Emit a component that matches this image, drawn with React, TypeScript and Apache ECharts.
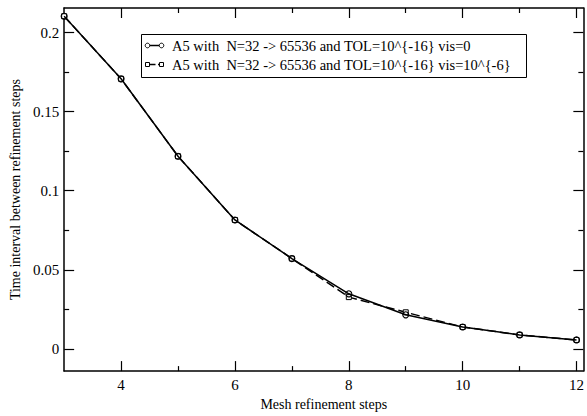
import React, { useEffect, useRef } from "react";
import * as echarts from "echarts";

const xSteps = [3, 4, 5, 6, 7, 8, 9, 10, 11, 12];
const visZero = [0.2104, 0.1708, 0.1218, 0.0815, 0.0571, 0.0348, 0.0215, 0.0138, 0.0088, 0.0056];
const visSmall = [0.2104, 0.1708, 0.1218, 0.0815, 0.0571, 0.0327, 0.0231, 0.0138, 0.0088, 0.0056];
const seriesNames = [
  "A5 with  N=32 -> 65536 and TOL=10^{-16} vis=0",
  "A5 with  N=32 -> 65536 and TOL=10^{-16} vis=10^{-6}",
];
const xMajorTicks = [4, 6, 8, 10, 12];
const xMinorTicks = [5, 7, 9, 11];
const yMajorTicks = [0, 0.05, 0.1, 0.15, 0.2];
const yMinorTicks = [0.025, 0.075, 0.125, 0.175];

const FONT = "Liberation Serif";
const X_MIN = 3;
const X_MAX = 12.12;
const Y_MIN = -0.0141;
const Y_MAX = 0.2156;

function legendGraphic() {
  const bx = 141;
  const by = 34;
  const row1 = 45.5;
  const row2 = 64.5;
  const stroke = { stroke: "#000", lineWidth: 1 };
  const textStyle = (y: number, t: string) => ({
    type: "text",
    x: 172,
    y,
    style: {
      text: t,
      fill: "#000",
      font: `14.5px ${FONT}`,
      verticalAlign: "middle",
      align: "left",
    },
  });
  return {
    type: "group",
    z: 100,
    children: [
      {
        type: "rect",
        shape: { x: bx + 0.5, y: by + 0.5, width: 385, height: 43 },
        style: { fill: "#fff", stroke: "#000", lineWidth: 1 },
      },
      {
        type: "line",
        shape: { x1: 148, y1: row1, x2: 161, y2: row1 },
        style: { stroke: "#000", lineWidth: 1.5 },
      },
      { type: "circle", shape: { cx: 147.5, cy: row1, r: 2.3 }, style: { fill: "#fff", ...stroke } },
      { type: "circle", shape: { cx: 161.5, cy: row1, r: 2.3 }, style: { fill: "#fff", ...stroke } },
      textStyle(row1, seriesNames[0]),
      {
        type: "line",
        shape: { x1: 150, y1: row2, x2: 155.5, y2: row2 },
        style: { stroke: "#000", lineWidth: 1.5 },
      },
      {
        type: "line",
        shape: { x1: 158, y1: row2, x2: 160, y2: row2 },
        style: { stroke: "#000", lineWidth: 1.5 },
      },
      {
        type: "rect",
        shape: { x: 145.5, y: row2 - 2, width: 4, height: 4 },
        style: { fill: "#fff", ...stroke },
      },
      {
        type: "rect",
        shape: { x: 159.5, y: row2 - 2, width: 4, height: 4 },
        style: { fill: "#fff", ...stroke },
      },
      textStyle(row2, seriesNames[1]),
    ],
  };
}

export default function App() {
  const ref = useRef<HTMLDivElement>(null);
  useEffect(() => {
    if (!ref.current) return;
    const chart = echarts.init(ref.current, null, { renderer: "svg" });
    const line = { color: "#000", width: 1.5 };
    const tickLine = { color: "#000", width: 1.2 };
    const mkX = (pos: string, ticks: number[], len: number, main: boolean) => ({
      type: "value",
      position: pos,
      min: X_MIN,
      max: X_MAX,
      axisLine: { show: main, onZero: false, lineStyle: line },
      axisTick: { show: true, inside: true, length: len, customValues: ticks, lineStyle: tickLine },
      axisLabel:
        main && pos === "bottom"
          ? { show: true, customValues: ticks, color: "#000", fontFamily: FONT, fontSize: 15, margin: 6 }
          : { show: false },
      splitLine: { show: false },
      ...(main && pos === "bottom"
        ? {
            name: "Mesh refinement steps",
            nameLocation: "middle",
            nameGap: 24,
            nameTextStyle: { color: "#000", fontFamily: FONT, fontSize: 14 },
          }
        : {}),
    });
    const mkY = (pos: string, ticks: number[], len: number, main: boolean) => ({
      type: "value",
      position: pos,
      min: Y_MIN,
      max: Y_MAX,
      axisLine: { show: main, onZero: false, lineStyle: line },
      axisTick: { show: true, inside: true, length: len, customValues: ticks, lineStyle: tickLine },
      axisLabel:
        main && pos === "left"
          ? { show: true, customValues: ticks, color: "#000", fontFamily: FONT, fontSize: 15, margin: 5 }
          : { show: false },
      splitLine: { show: false },
      ...(main && pos === "left"
        ? {
            name: "Time interval between refinement steps",
            nameLocation: "middle",
            nameGap: 40,
            nameTextStyle: { color: "#000", fontFamily: FONT, fontSize: 14 },
          }
        : {}),
    });
    chart.setOption({
      animation: false,
      backgroundColor: "#fff",
      grid: { left: 62, right: 1, top: 8, bottom: 41, containLabel: false },
      xAxis: [
        mkX("bottom", xMajorTicks, 10, true),
        mkX("bottom", xMinorTicks, 5, false),
        mkX("top", xMajorTicks, 10, true),
        mkX("top", xMinorTicks, 5, false),
      ],
      yAxis: [
        mkY("left", yMajorTicks, 10, true),
        mkY("left", yMinorTicks, 5, false),
        mkY("right", yMajorTicks, 10, true),
        mkY("right", yMinorTicks, 5, false),
      ],
      legend: { show: false, data: seriesNames },
      graphic: [legendGraphic()],
      series: [
        {
          name: seriesNames[1],
          type: "line",
          xAxisIndex: 0,
          yAxisIndex: 0,
          data: xSteps.map((x, i) => [x, visSmall[i]]),
          symbol: "rect",
          symbolSize: 5,
          color: "#000",
          lineStyle: { color: "#000", width: 1.5, type: [9, 4] },
          itemStyle: { color: "#fff", borderColor: "#000", borderWidth: 1 },
          z: 2,
        },
        {
          name: seriesNames[0],
          type: "line",
          xAxisIndex: 0,
          yAxisIndex: 0,
          data: xSteps.map((x, i) => [x, visZero[i]]),
          symbol: "circle",
          symbolSize: 6,
          color: "#000",
          lineStyle: { color: "#000", width: 1.5 },
          itemStyle: { color: "rgba(255,255,255,0)", borderColor: "#000", borderWidth: 1.1 },
          z: 3,
        },
      ],
    });
    return () => chart.dispose();
  }, []);
  return (
    <div
      ref={ref}
      style={{ position: "fixed", left: 0, top: 0, width: 587, height: 416, background: "#fff" }}
    />
  );
}
